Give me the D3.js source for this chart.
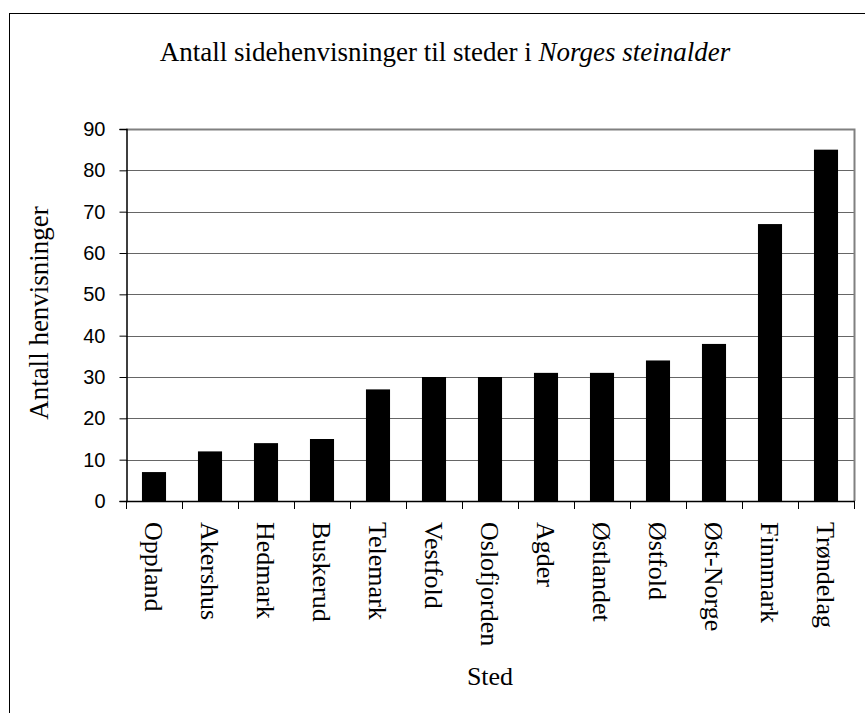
<!DOCTYPE html>
<html>
<head>
<meta charset="utf-8">
<script src="https://cdn.jsdelivr.net/npm/d3@7"></script>
<style>
  body { margin: 0; background: #fff; }
  svg { display: block; }
</style>
</head>
<body>
<div id="chart"></div>
<script>
// data
var places = ["Oppland", "Akershus", "Hedmark", "Buskerud", "Telemark", "Vestfold", "Oslofjorden",
              "Agder", "Østlandet", "Østfold", "Øst-Norge", "Finnmark", "Trøndelag"];
var pageRefs = [7, 12, 14, 15, 27, 30, 30, 31, 31, 34, 38, 67, 85];
var yTicks = [0, 10, 20, 30, 40, 50, 60, 70, 80, 90];

var width = 865,
    height = 713;

var serif = "'Liberation Serif', 'Times New Roman', serif";
var sans = "'Liberation Sans', Arial, sans-serif";

var svg = d3.select("#chart")
  .append("svg")
    .attr("width", width)
    .attr("height", height);

// outer chart border (runs off the right / bottom edge)
svg.append("rect")
  .attr("x", 9.5)
  .attr("y", 13.5)
  .attr("width", width + 20)
  .attr("height", height + 20)
  .attr("fill", "none")
  .attr("stroke", "#000")
  .attr("stroke-width", 1);

// plot area
var plotLeft = 126, plotRight = 854, plotTop = 129, plotBottom = 501;

var x = d3.scaleBand()
  .domain(places)
  .range([plotLeft, plotRight])
  .paddingInner(0.57)
  .paddingOuter(0.285);

var y = d3.scaleLinear()
  .domain([0, 90])
  .range([plotBottom, plotTop]);

// gridlines
svg.selectAll("line.grid")
  .data(yTicks.filter(function(d) { return d > 0 && d < 90; }))
  .enter()
  .append("line")
    .attr("class", "grid")
    .attr("x1", plotLeft)
    .attr("x2", plotRight)
    .attr("y1", function(d) { return Math.round(y(d)) + 0.5; })
    .attr("y2", function(d) { return Math.round(y(d)) + 0.5; })
    .attr("stroke", "#666")
    .attr("stroke-width", 1.2);

// plot area border (top / right, grey)
svg.append("path")
  .attr("d", "M" + plotLeft + "," + (plotTop + 0.5) + "H" + (plotRight + 0.5) + "V" + plotBottom)
  .attr("fill", "none")
  .attr("stroke", "#808080")
  .attr("stroke-width", 2);

// bars
svg.selectAll("rect.bar")
  .data(places)
  .enter()
  .append("rect")
    .attr("class", "bar")
    .attr("x", function(d) { return x(d); })
    .attr("width", x.bandwidth())
    .attr("y", function(d, i) { return y(pageRefs[i]); })
    .attr("height", function(d, i) { return plotBottom - y(pageRefs[i]); })
    .attr("fill", "#000");

// y axis
var yAxis = svg.append("g")
  .attr("transform", "translate(" + (plotLeft + 0.5) + ",0)")
  .call(d3.axisLeft(y).tickValues(yTicks).tickSize(7).tickPadding(14));
yAxis.select(".domain").attr("stroke", "#000").attr("stroke-width", 1.5);
yAxis.selectAll(".tick line").attr("stroke", "#000");
yAxis.selectAll(".tick text")
  .attr("font-family", sans)
  .attr("font-size", 20)
  .attr("fill", "#000");

// x axis: ticks at category boundaries
var step = x.step();
var edges = d3.range(places.length + 1).map(function(i) { return plotLeft + i * step; });
svg.append("line")
  .attr("x1", plotLeft)
  .attr("x2", plotRight + 1)
  .attr("y1", plotBottom + 0.5)
  .attr("y2", plotBottom + 0.5)
  .attr("stroke", "#000")
  .attr("stroke-width", 1.5);
svg.selectAll("line.xtick")
  .data(edges)
  .enter()
  .append("line")
    .attr("class", "xtick")
    .attr("x1", function(d) { return Math.round(d) + 0.5; })
    .attr("x2", function(d) { return Math.round(d) + 0.5; })
    .attr("y1", plotBottom)
    .attr("y2", plotBottom + 8)
    .attr("stroke", "#000");

// category labels, rotated
svg.selectAll("text.cat")
  .data(places)
  .enter()
  .append("text")
    .attr("class", "cat")
    .attr("transform", function(d) {
      return "translate(" + (x(d) + x.bandwidth() / 2) + "," + 522 + ") rotate(90)";
    })
    .attr("dy", "0.36em")
    .attr("text-anchor", "start")
    .attr("font-family", serif)
    .attr("font-size", 26)
    .text(function(d) { return d; });

// title
var title = svg.append("text")
  .attr("x", 445)
  .attr("y", 61)
  .attr("text-anchor", "middle")
  .attr("font-family", serif)
  .attr("font-size", 27);
title.append("tspan").text("Antall sidehenvisninger til steder i ");
title.append("tspan").attr("font-style", "italic").text("Norges steinalder");

// axis titles
svg.append("text")
  .attr("transform", "translate(48,313) rotate(-90)")
  .attr("text-anchor", "middle")
  .attr("font-family", serif)
  .attr("font-size", 27)
  .text("Antall henvisninger");

svg.append("text")
  .attr("x", 490)
  .attr("y", 685)
  .attr("text-anchor", "middle")
  .attr("font-family", serif)
  .attr("font-size", 26)
  .text("Sted");
</script>
</body>
</html>
